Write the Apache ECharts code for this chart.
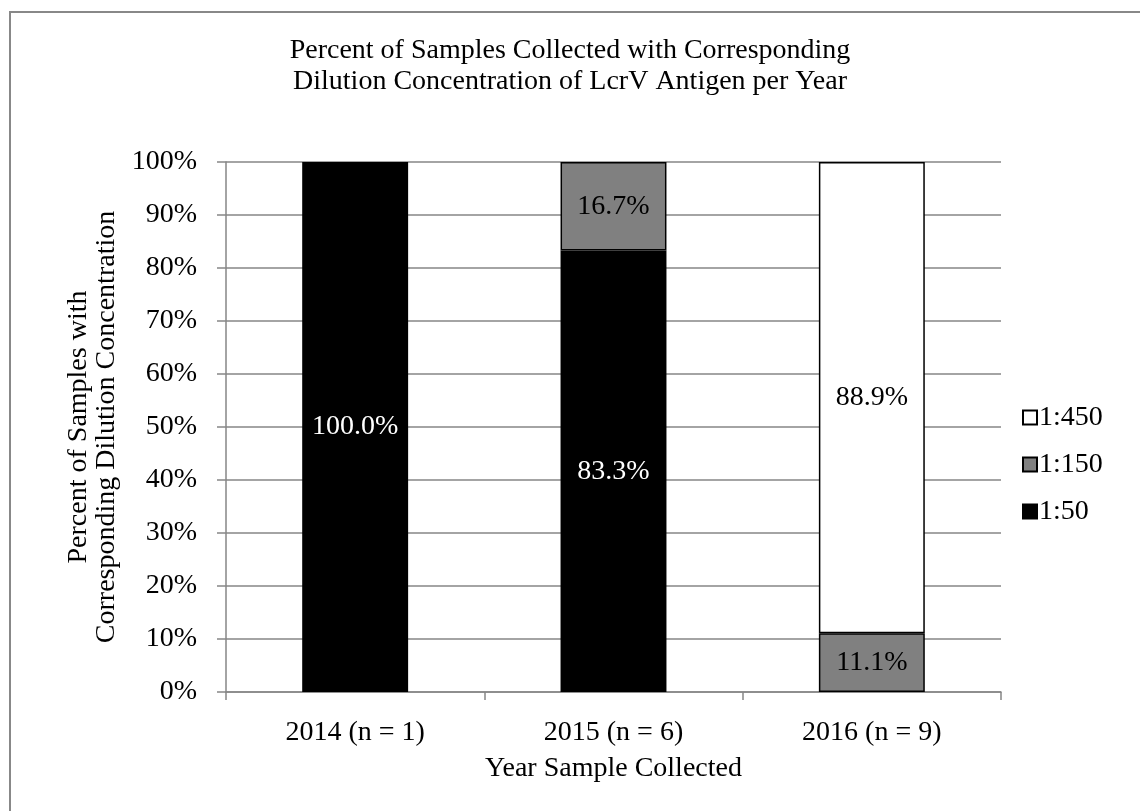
<!DOCTYPE html>
<html>
<head>
<meta charset="utf-8">
<script src="https://cdn.jsdelivr.net/npm/echarts@6/dist/echarts.min.js"></script>
<style>
  html, body { margin: 0; padding: 0; background: #ffffff; }
  #chart { width: 1140px; height: 811px; }
</style>
</head>
<body>
<div id="chart"></div>
<script>
// Sample years (x-axis categories)
const years = ['2014 (n = 1)', '2015 (n = 6)', '2016 (n = 9)'];

// Percent of samples at each dilution, per year (null = no samples)
const dil50  = [100.0, 83.3, null];
const dil150 = [null, 16.7, 11.1];
const dil450 = [null, null, 88.9];

// Legend order (top to bottom)
const legendOrder = ['1:450', '1:150', '1:50'];

const FONT = '"Liberation Serif", "Times New Roman", serif';
const FS = 28;
const GRID_GRAY = '#868686';

const pctLabel = (color) => ({
  show: true,
  position: 'inside',
  color: color,
  fontFamily: FONT,
  fontSize: FS,
  formatter: (p) => p.value == null ? '' : p.value.toFixed(1) + '%'
});

const chart = echarts.init(document.getElementById('chart'), null, { renderer: 'canvas' });

chart.setOption({
  backgroundColor: '#ffffff',
  animation: false,
  textStyle: { fontFamily: FONT, color: '#000000' },
  graphic: [{
    type: 'rect',
    shape: { x: 10, y: 12, width: 1200, height: 900 },
    style: { fill: 'none', stroke: '#888888', lineWidth: 2 },
    silent: true,
    z: -1
  }],
  title: {
    text: 'Percent of Samples Collected with Corresponding\nDilution Concentration of LcrV Antigen per Year',
    left: 'center',
    top: 30,
    textStyle: {
      fontFamily: FONT,
      fontSize: FS,
      fontWeight: 'normal',
      color: '#000000',
      lineHeight: 31
    }
  },
  legend: {
    orient: 'vertical',
    left: 1017,
    top: 398,
    itemWidth: 14,
    itemHeight: 14,
    itemGap: 18,
    icon: 'rect',
    data: legendOrder,
    textStyle: { fontFamily: FONT, fontSize: FS, color: '#000000', lineHeight: 29, padding: [0, 0, 0, -3] }
  },
  grid: { left: 226, right: 139, top: 162, bottom: 119 },
  xAxis: {
    type: 'category',
    data: years,
    name: 'Year Sample Collected',
    nameLocation: 'middle',
    nameGap: 63,
    nameTextStyle: { fontFamily: FONT, fontSize: FS, color: '#000000' },
    axisLine: { lineStyle: { color: GRID_GRAY, width: 1.5 } },
    axisTick: { show: true, alignWithLabel: false, length: 8, lineStyle: { color: GRID_GRAY, width: 1.5 } },
    axisLabel: { fontFamily: FONT, fontSize: FS, color: '#000000', margin: 27 }
  },
  yAxis: {
    type: 'value',
    min: 0,
    max: 100,
    interval: 10,
    name: 'Percent of Samples with\nCorresponding Dilution Concentration',
    nameLocation: 'middle',
    nameRotate: 90,
    nameGap: 93,
    nameTextStyle: { fontFamily: FONT, fontSize: FS, color: '#000000', lineHeight: 28 },
    axisLine: { show: true, lineStyle: { color: GRID_GRAY, width: 1.5 } },
    axisTick: { show: true, length: 9, lineStyle: { color: GRID_GRAY, width: 1.5 } },
    splitLine: { show: true, lineStyle: { color: GRID_GRAY, width: 1.5 } },
    axisLabel: { fontFamily: FONT, fontSize: FS, color: '#000000', margin: 29, formatter: '{value}%' }
  },
  series: [
    {
      name: '1:50',
      type: 'bar',
      stack: 'total',
      barCategoryGap: '59%',
      data: dil50,
      itemStyle: { color: '#000000', borderColor: '#000000', borderWidth: 1.5 },
      label: pctLabel('#ffffff')
    },
    {
      name: '1:150',
      type: 'bar',
      stack: 'total',
      data: dil150,
      itemStyle: { color: '#808080', borderColor: '#000000', borderWidth: 1.5 },
      label: pctLabel('#000000')
    },
    {
      name: '1:450',
      type: 'bar',
      stack: 'total',
      data: dil450,
      itemStyle: { color: '#ffffff', borderColor: '#000000', borderWidth: 1.5 },
      label: pctLabel('#000000')
    }
  ]
});
</script>
</body>
</html>
